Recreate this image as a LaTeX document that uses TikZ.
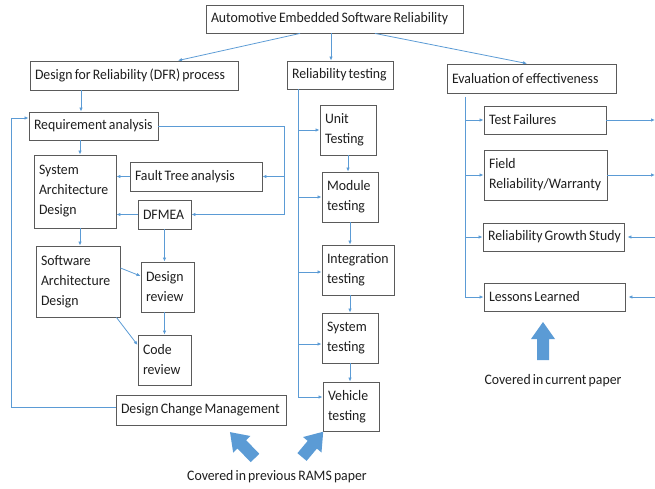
\documentclass[tikz,border=0pt]{standalone}
\usepackage{fontspec}
\setmainfont{Carlito}[FakeStretch=0.95, WordSpace=0.7]
\usetikzlibrary{calc,arrows.meta}

\definecolor{lnblue}{RGB}{91,155,213}
\definecolor{boxgray}{RGB}{90,90,90}
\definecolor{txtgray}{RGB}{30,30,30}

\begin{document}
\begin{tikzpicture}[x=1pt, y=-1pt,
    box/.style={draw=boxgray, line width=0.9pt, align=flush left, inner xsep=5pt, inner ysep=0pt,
                font=\fontsize{14.5}{20}\selectfont, text=txtgray},
    ln/.style={draw=lnblue, line width=0.8pt},
    arr/.style={ln, -{Latex[length=4pt,width=3.5pt]}},
    note/.style={font=\fontsize{14.5}{20}\selectfont, text=txtgray, inner sep=0pt}]
  \useasboundingbox (0,0) rectangle (655,489);
  \coordinate (edge) at (655,0);

  % top level
  \node[box, text width=247pt, minimum height=28pt] (top) at (334.5,19) {Automotive Embedded Software Reliability};
  \node[box, text width=198pt, minimum height=29pt] (dfr) at (134,75.5) {Design for Reliability (DFR) process};
  \node[box, text width=96pt, minimum height=28pt] (rt) at (340,75) {Reliability testing};
  \node[box, text width=159pt, minimum height=29pt] (eval) at (531.5,78.5) {Evaluation of effectiveness};

  \draw[arr] ([xshift=-34.5pt]top.south) -- ([xshift=44pt]dfr.north);
  \draw[arr] ([xshift=-3.5pt]top.south) -- ([xshift=-9pt]rt.north);
  \draw[arr] ([xshift=40.5pt]top.south) -- ([xshift=-4.5pt]eval.north);

  % DFR process
  \node[box, text width=119pt, minimum height=28pt] (req) at (93.5,126) {Requirement analysis};
  \node[box, text width=72pt, minimum height=73pt] (sad) at (75,191.5) {System\\Architecture\\Design};
  \node[box, text width=122pt, minimum height=29pt] (fta) at (196,176.5) {Fault Tree analysis};
  \node[box, text width=43pt, minimum height=29pt] (dfmea) at (164.5,214.5) {DFMEA};
  \node[box, text width=74pt, minimum height=71pt] (swad) at (78,281.5) {Software\\Architecture\\Design};
  \node[box, text width=43pt, minimum height=50pt] (dr) at (167.5,287) {Design\\review};
  \node[box, text width=43pt, minimum height=50pt] (cr) at (164.5,360) {Code\\review};
  \node[box, text width=160pt, minimum height=30pt] (dcm) at (201,410) {Design Change Management};

  \coordinate (jr) at (284,214.5);
  \coordinate (fb) at (11,118);

  \draw[arr] ([xshift=-53pt]dfr.south) -- ([xshift=-12.5pt]req.north);
  \draw[arr] ([xshift=-13.5pt]req.south) -- ([xshift=5pt]sad.north);
  \draw[arr] ([xshift=5pt]sad.south) -- ([xshift=2pt]swad.north);
  \draw[arr] (fta.west) -- (fta.west -| sad.east);
  \draw[arr] (dfmea.west) -- (dfmea.west -| sad.east);
  \draw[arr] (req.east) -| (jr) -- (dfmea.east);
  \draw[arr] (fta.east -| jr) -- (fta.east);
  \draw[arr] (dfmea.south) -- (dfmea.south |- dr.north);
  \draw[arr] ([yshift=13.5pt]swad.east) -- ([yshift=11pt]dr.west);
  \draw[arr] (cr.north |- dr.south) -- (cr.north);
  \draw[arr] ([xshift=-4pt]swad.south east) -- ([yshift=15pt]cr.west);
  \draw[arr] ([yshift=3pt]dcm.west) -| (fb) -- (fb -| req.west);

  % reliability testing
  \node[box, text width=46pt, minimum height=50pt] (unit) at (348,130) {Unit\\Testing};
  \node[box, text width=46pt, minimum height=50pt] (mod) at (350,197) {Module\\testing};
  \node[box, text width=62pt, minimum height=50pt] (integ) at (358,270) {Integration\\testing};
  \node[box, text width=46pt, minimum height=50pt] (sys) at (350,338) {System\\testing};
  \node[box, text width=46pt, minimum height=49pt] (veh) at (351,406.5) {Vehicle\\testing};

  \coordinate (rs) at (298,397);
  \draw[ln] ([xshift=-42pt]rt.south) -- (rs);
  \draw[arr] (unit.west -| rs) -- (unit.west);
  \draw[arr] (mod.west -| rs) -- (mod.west);
  \draw[arr] ([yshift=-2pt]integ.west -| rs) -- ([yshift=-2pt]integ.west);
  \draw[arr] ([yshift=-6pt]sys.west -| rs) -- ([yshift=-6pt]sys.west);
  \draw[arr] (rs) -- (rs -| veh.west);

  \draw[arr] (unit.south) -- (unit.south |- mod.north);
  \draw[arr] (mod.south) -- (mod.south |- integ.north);
  \draw[arr] (sys.north |- integ.south) -- (sys.north);
  \draw[arr] (sys.south) -- (sys.south |- veh.north);

  % evaluation of effectiveness
  \node[box, text width=112pt, minimum height=28pt] (tf) at (545,120) {Test Failures};
  \node[box, text width=113pt, minimum height=50pt] (field) at (545.5,175) {Field\\Reliability/Warranty};
  \node[box, text width=131pt, minimum height=28pt] (rgs) at (553.5,237) {\mbox{Reliability Growth Study}};
  \node[box, text width=131pt, minimum height=28pt] (ll) at (554.5,297) {Lessons Learned};

  \coordinate (es) at (465,97);
  \draw[arr] (es) |- (ll.west);
  \draw[arr] (tf.west -| es) -- (tf.west);
  \draw[arr] (field.west -| es) -- (field.west);
  \draw[arr] (rgs.west -| es) -- (rgs.west);

  \draw[arr] (tf.east) -- (tf.east -| edge);
  \draw[arr] (field.east) -- (field.east -| edge);
  \draw[arr, shorten >=3pt] (rgs.east -| edge) -- (rgs.east);
  \draw[arr, shorten >=3pt] (ll.east -| edge) -- (ll.east);

  % big arrows
  \foreach \x/\y/\a/\l in {255/458/134/36, 302/457/50/33, 543/360/90/38}
    \fill[lnblue, shift={(\x,\y)}, rotate=\a]
      (0,-6) -- (\l-17,-6) -- (\l-17,-12) -- (\l,0) -- (\l-17,12) -- (\l-17,6) -- (0,6) -- cycle;

  \node[note] (prev) at (277,477) {Covered in previous RAMS paper};
  \node[note] (curr) at (553,381) {Covered in current paper};
\end{tikzpicture}
\end{document}
